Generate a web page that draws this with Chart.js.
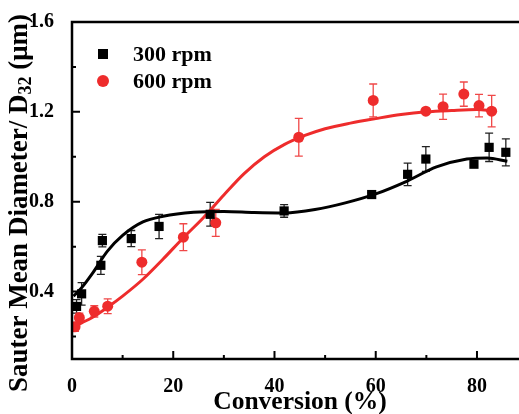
<!DOCTYPE html>
<html lang="en">

<head>
    <meta charset="UTF-8">
    <script src="https://cdn.jsdelivr.net/npm/chart.js"></script>
    <title>Sauter Mean Diameter</title>
    <style>
        body { margin: 0; background: #fff; }
    </style>
</head>

<body>
    <canvas id="chart" width="519" height="414"></canvas>
    <script>
        // measured points, 300 rpm
        const conv300 = [0.9, 1.9, 5.7, 6.0, 11.7, 17.2, 27.3, 41.9, 59.2, 66.3, 69.9, 79.4, 82.4, 85.7]
        const d32_300 = [0.334, 0.39, 0.517, 0.627, 0.636, 0.69, 0.744, 0.759, 0.832, 0.922, 0.99, 0.967, 1.042, 1.02]
        const err300 = [0.03, 0.05, 0.04, 0.028, 0.036, 0.054, 0.053, 0.028, 0.008, 0.05, 0.055, 0.008, 0.063, 0.06]

        // measured points, 600 rpm
        const conv600 = [0.6, 1.45, 4.4, 7.05, 13.8, 22.0, 28.4, 44.8, 59.5, 69.9, 73.3, 77.4, 80.4, 82.9]
        const d32_600 = [0.243, 0.284, 0.312, 0.335, 0.531, 0.642, 0.706, 1.087, 1.251, 1.203, 1.223, 1.279, 1.228, 1.203]
        const err600 = [0.02, 0.02, 0.025, 0.033, 0.055, 0.06, 0.06, 0.084, 0.073, 0.006, 0.056, 0.054, 0.05, 0.07]

        // fitted curves
        const fitX300 = [0.3, 2, 4, 7, 10, 14, 18, 24, 30, 36, 42, 48, 54, 60, 66, 72, 78, 82, 86]
        const fitY300 = [0.38, 0.42, 0.48, 0.58, 0.65, 0.71, 0.735, 0.753, 0.757, 0.752, 0.75, 0.765, 0.795, 0.835, 0.89, 0.955, 0.99, 0.995, 0.98]
        const fitX600 = [0, 2, 4, 7, 10, 14, 18, 22, 26, 30, 34, 38, 42, 46, 50, 55, 60, 65, 70, 75, 80, 83]
        const fitY600 = [0.24, 0.262, 0.285, 0.33, 0.38, 0.455, 0.545, 0.64, 0.73, 0.83, 0.925, 1.0, 1.055, 1.095, 1.125, 1.15, 1.17, 1.188, 1.2, 1.206, 1.21, 1.206]

        // axis ticks
        const xMajor = [0, 20, 40, 60, 80]
        const xMinor = [10, 30, 50, 70]
        const yMajor = [0.4, 0.8, 1.2, 1.6]
        const yMinor = [0.2, 0.6, 1.0, 1.4]

        const BLACK = '#000000'
        const RED = '#ee2c2c'
        const FONT = "'Liberation Serif', 'Times New Roman', serif"

        const toXY = (xs, ys) => xs.map((x, i) => ({ x, y: ys[i] }))

        // error bars behind the markers
        const errorBars = {
            id: 'errorBars',
            beforeDatasetsDraw: (chart) => {
                const ctx = chart.ctx
                const xs = chart.scales.x, ys = chart.scales.y
                chart.data.datasets.forEach((ds) => {
                    if (!ds.errors) return
                    ctx.save()
                    ctx.strokeStyle = ds.errColor
                    ctx.lineWidth = 1.3
                    ds.data.forEach((p, i) => {
                        const e = ds.errors[i]
                        const px = xs.getPixelForValue(p.x)
                        const top = ys.getPixelForValue(p.y + e)
                        const bot = ys.getPixelForValue(p.y - e)
                        ctx.beginPath()
                        ctx.moveTo(px, top); ctx.lineTo(px, bot)
                        ctx.moveTo(px - 4, top); ctx.lineTo(px + 4, top)
                        ctx.moveTo(px - 4, bot); ctx.lineTo(px + 4, bot)
                        ctx.stroke()
                    })
                    ctx.restore()
                })
            }
        }

        // axis frame, inward ticks, titles and legend
        const frame = {
            id: 'frame',
            afterDraw: (chart) => {
                const ctx = chart.ctx
                const a = chart.chartArea
                const xs = chart.scales.x, ys = chart.scales.y
                ctx.save()
                ctx.strokeStyle = BLACK
                ctx.lineWidth = 2.5
                ctx.beginPath()
                ctx.moveTo(chart.width, a.top); ctx.lineTo(a.left, a.top)
                ctx.lineTo(a.left, a.bottom); ctx.lineTo(chart.width, a.bottom)
                ctx.stroke()

                ctx.lineWidth = 2
                ctx.beginPath()
                xMajor.forEach(v => { const p = xs.getPixelForValue(v); ctx.moveTo(p, a.bottom); ctx.lineTo(p, a.bottom - 8) })
                xMinor.forEach(v => { const p = xs.getPixelForValue(v); ctx.moveTo(p, a.bottom); ctx.lineTo(p, a.bottom - 4) })
                yMajor.forEach(v => { const p = ys.getPixelForValue(v); ctx.moveTo(a.left, p); ctx.lineTo(a.left + 8, p) })
                yMinor.forEach(v => { const p = ys.getPixelForValue(v); ctx.moveTo(a.left, p); ctx.lineTo(a.left + 4, p) })
                ctx.stroke()

                // x title
                ctx.fillStyle = BLACK
                ctx.font = 'bold 25.5px ' + FONT
                ctx.textAlign = 'center'
                ctx.textBaseline = 'middle'
                ctx.fillText('Conversion (%)', 300, a.bottom + 43)

                // y title with subscript
                const parts = [
                    { t: 'Sauter Mean Diameter/ D', f: 'bold 27px ' + FONT, dy: 0 },
                    { t: '32', f: 'bold 18px ' + FONT, dy: 6 },
                    { t: ' (\u03bcm)', f: 'bold 27px ' + FONT, dy: 0 }
                ]
                let total = 0
                parts.forEach(p => { ctx.font = p.f; p.w = ctx.measureText(p.t).width; total += p.w })
                ctx.translate(20, 203)
                ctx.rotate(-Math.PI / 2)
                ctx.textAlign = 'left'
                let cx = -total / 2
                parts.forEach(p => { ctx.font = p.f; ctx.fillText(p.t, cx, p.dy); cx += p.w })
                ctx.setTransform(1, 0, 0, 1, 0, 0)

                // legend
                ctx.font = 'bold 22px ' + FONT
                ctx.textAlign = 'left'
                ctx.textBaseline = 'middle'
                const lx = a.left + 31
                chart.data.datasets.filter(ds => ds.errors).forEach((ds, i) => {
                    const ly = a.top + 32 + i * 27
                    ctx.fillStyle = ds.backgroundColor
                    ctx.beginPath()
                    if (ds.pointStyle === 'rect') ctx.rect(lx - 5, ly - 5, 10, 10)
                    else ctx.arc(lx, ly, 6, 0, Math.PI * 2)
                    ctx.fill()
                    ctx.fillStyle = BLACK
                    ctx.fillText(ds.label, lx + 30, ly + 1)
                })
                ctx.restore()
            }
        }

        const config = {
            type: 'scatter',
            data: {
                datasets: [
                    {
                        label: '300 rpm', data: toXY(conv300, d32_300), errors: err300, errColor: '#222222',
                        pointStyle: 'rect', pointRadius: 6.5, backgroundColor: BLACK, borderColor: BLACK, borderWidth: 0
                    },
                    {
                        label: '600 rpm', data: toXY(conv600, d32_600), errors: err600, errColor: '#f04848',
                        pointStyle: 'circle', pointRadius: 5.5, backgroundColor: RED, borderColor: RED, borderWidth: 0
                    },
                    {
                        label: 'fit 600', data: toXY(fitX600, fitY600), showLine: true, pointRadius: 0,
                        borderColor: RED, borderWidth: 3, cubicInterpolationMode: 'monotone'
                    },
                    {
                        label: 'fit 300', data: toXY(fitX300, fitY300), showLine: true, pointRadius: 0,
                        borderColor: BLACK, borderWidth: 3, cubicInterpolationMode: 'monotone'
                    }
                ]
            },
            options: {
                responsive: false,
                animation: false,
                layout: { autoPadding: false, padding: { top: 18, right: 0, left: 0, bottom: 0 } },
                plugins: { legend: { display: false }, tooltip: { enabled: false } },
                scales: {
                    x: {
                        type: 'linear', min: 0, max: 88.3,
                        grid: { display: false }, border: { display: false },
                        afterBuildTicks: (s) => { s.ticks = xMajor.map(v => ({ value: v })) },
                        afterFit: (s) => { s.height = 55 },
                        ticks: { color: BLACK, padding: 8, maxRotation: 0, font: { family: FONT, size: 20, weight: 'bold' } }
                    },
                    y: {
                        type: 'linear', min: 0.1, max: 1.6,
                        grid: { display: false }, border: { display: false },
                        afterBuildTicks: (s) => { s.ticks = yMajor.map(v => ({ value: v })) },
                        afterFit: (s) => { s.width = 72 },
                        ticks: {
                            color: BLACK, padding: 10, font: { family: FONT, size: 20, weight: 'bold' },
                            callback: (v) => v.toFixed(1)
                        }
                    }
                }
            },
            plugins: [errorBars, frame]
        }

        new Chart(document.getElementById('chart'), config)
    </script>
</body>

</html>
